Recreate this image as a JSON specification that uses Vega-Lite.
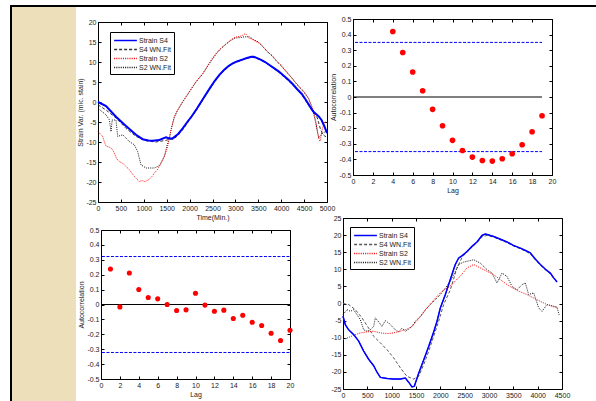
{
"$schema": "https://vega.github.io/schema/vega-lite/v6.json",
"padding": {"left": 10, "top": 5, "right": 0, "bottom": 0},
"background": "white",
"config": {
 "view": {"stroke": null},
 "concat": {"spacing": 0},
 "axis": {"labelFont": "Liberation Sans", "labelFontSize": 7, "labelColor": "#222", "titleFont": "Liberation Sans", "titleFontSize": 7, "titleFontWeight": "normal", "titleColor": "#222", "domain": true, "domainColor": "#000", "domainWidth": 1, "grid": false, "tickColor": "#000", "tickSize": -3, "labelPadding": 5, "titlePadding": 2, "labelFlush": false, "labelOverlap": false},
 "legend": {"labelFont": "Liberation Sans", "labelFontSize": 7, "labelColor": "#222", "symbolType": "M-2.4,0H2.4", "symbolSize": 90, "symbolStrokeWidth": 1.3, "symbolOffset": 7, "strokeColor": "#000", "fillColor": "white", "padding": 3, "rowPadding": 0, "labelOffset": 8}
},
"datasets": {
 "p1": [
  {"s":"S4 WN.Fit","t":0,"v":-0.7},{"s":"S4 WN.Fit","t":175,"v":-2},{"s":"S4 WN.Fit","t":393,"v":-4},{"s":"S4 WN.Fit","t":611,"v":-6.6},{"s":"S4 WN.Fit","t":830,"v":-8.6},{"s":"S4 WN.Fit","t":1048,"v":-9.7},{"s":"S4 WN.Fit","t":1260,"v":-10},{"s":"S4 WN.Fit","t":1480,"v":-9.6},{"s":"S4 WN.Fit","t":1560,"v":-9.3},{"s":"S4 WN.Fit","t":1650,"v":-9.3},{"s":"S4 WN.Fit","t":1750,"v":-8.3},{"s":"S4 WN.Fit","t":1850,"v":-6.9},{"s":"S4 WN.Fit","t":1950,"v":-5.3},{"s":"S4 WN.Fit","t":2050,"v":-3.7},{"s":"S4 WN.Fit","t":2150,"v":-2},{"s":"S4 WN.Fit","t":2250,"v":-0.2},{"s":"S4 WN.Fit","t":2350,"v":1.6},{"s":"S4 WN.Fit","t":2450,"v":3.4},{"s":"S4 WN.Fit","t":2550,"v":5.1},{"s":"S4 WN.Fit","t":2650,"v":6.6},{"s":"S4 WN.Fit","t":2750,"v":7.8},{"s":"S4 WN.Fit","t":2850,"v":8.8},{"s":"S4 WN.Fit","t":2950,"v":9.6},{"s":"S4 WN.Fit","t":3050,"v":10.1},{"s":"S4 WN.Fit","t":3150,"v":10.5},{"s":"S4 WN.Fit","t":3250,"v":10.9},{"s":"S4 WN.Fit","t":3350,"v":11.2},{"s":"S4 WN.Fit","t":3450,"v":11},{"s":"S4 WN.Fit","t":3550,"v":10.5},{"s":"S4 WN.Fit","t":3650,"v":9.9},{"s":"S4 WN.Fit","t":3750,"v":9.1},{"s":"S4 WN.Fit","t":3850,"v":8.3},{"s":"S4 WN.Fit","t":3950,"v":7.4},{"s":"S4 WN.Fit","t":4050,"v":6.4},{"s":"S4 WN.Fit","t":4150,"v":5.4},{"s":"S4 WN.Fit","t":4250,"v":4.3},{"s":"S4 WN.Fit","t":4350,"v":3.1},{"s":"S4 WN.Fit","t":4450,"v":1.8},{"s":"S4 WN.Fit","t":4550,"v":0},{"s":"S4 WN.Fit","t":4650,"v":-1.8},{"s":"S4 WN.Fit","t":4720,"v":-2.6},{"s":"S4 WN.Fit","t":4790,"v":-4},{"s":"S4 WN.Fit","t":4850,"v":-6.5},{"s":"S4 WN.Fit","t":4900,"v":-8},{"s":"S4 WN.Fit","t":4950,"v":-8.5},{"s":"S4 WN.Fit","t":5000,"v":-8.8},
  {"s":"S2 WN.Fit","t":0,"v":-1.6},{"s":"S2 WN.Fit","t":175,"v":-3.2},{"s":"S2 WN.Fit","t":250,"v":-4.5},{"s":"S2 WN.Fit","t":284,"v":-7.4},{"s":"S2 WN.Fit","t":310,"v":-4.5},{"s":"S2 WN.Fit","t":393,"v":-4.5},{"s":"S2 WN.Fit","t":430,"v":-8.6},{"s":"S2 WN.Fit","t":540,"v":-8.2},{"s":"S2 WN.Fit","t":684,"v":-9.9},{"s":"S2 WN.Fit","t":793,"v":-10.7},{"s":"S2 WN.Fit","t":866,"v":-12.4},{"s":"S2 WN.Fit","t":939,"v":-15.7},{"s":"S2 WN.Fit","t":1048,"v":-16.5},{"s":"S2 WN.Fit","t":1230,"v":-16.5},{"s":"S2 WN.Fit","t":1340,"v":-15.9},{"s":"S2 WN.Fit","t":1448,"v":-13.6},{"s":"S2 WN.Fit","t":1521,"v":-10.3},{"s":"S2 WN.Fit","t":1560,"v":-9},{"s":"S2 WN.Fit","t":1594,"v":-7},{"s":"S2 WN.Fit","t":1667,"v":-3.8},{"s":"S2 WN.Fit","t":1739,"v":-2.1},{"s":"S2 WN.Fit","t":1849,"v":0},{"s":"S2 WN.Fit","t":1994,"v":2.5},{"s":"S2 WN.Fit","t":2140,"v":5},{"s":"S2 WN.Fit","t":2285,"v":7},{"s":"S2 WN.Fit","t":2431,"v":9.6},{"s":"S2 WN.Fit","t":2580,"v":12},{"s":"S2 WN.Fit","t":2670,"v":13.2},{"s":"S2 WN.Fit","t":2780,"v":14.3},{"s":"S2 WN.Fit","t":2889,"v":15.3},{"s":"S2 WN.Fit","t":3000,"v":16},{"s":"S2 WN.Fit","t":3100,"v":16.1},{"s":"S2 WN.Fit","t":3200,"v":16.3},{"s":"S2 WN.Fit","t":3300,"v":16.3},{"s":"S2 WN.Fit","t":3400,"v":15.6},{"s":"S2 WN.Fit","t":3500,"v":15},{"s":"S2 WN.Fit","t":3600,"v":13.8},{"s":"S2 WN.Fit","t":3700,"v":12.6},{"s":"S2 WN.Fit","t":3800,"v":11.5},{"s":"S2 WN.Fit","t":3900,"v":10.2},{"s":"S2 WN.Fit","t":4000,"v":9},{"s":"S2 WN.Fit","t":4100,"v":7.7},{"s":"S2 WN.Fit","t":4200,"v":6.4},{"s":"S2 WN.Fit","t":4300,"v":5},{"s":"S2 WN.Fit","t":4400,"v":3.6},{"s":"S2 WN.Fit","t":4500,"v":2.4},{"s":"S2 WN.Fit","t":4600,"v":0.8},{"s":"S2 WN.Fit","t":4700,"v":-2.5},{"s":"S2 WN.Fit","t":4750,"v":-5},{"s":"S2 WN.Fit","t":4800,"v":-8},{"s":"S2 WN.Fit","t":4820,"v":-9},{"s":"S2 WN.Fit","t":4850,"v":-8.5},{"s":"S2 WN.Fit","t":4880,"v":-8},{"s":"S2 WN.Fit","t":4950,"v":-7.5},{"s":"S2 WN.Fit","t":5000,"v":-7},
  {"s":"Strain S4","t":0,"v":0},{"s":"Strain S4","t":175,"v":-1},{"s":"Strain S4","t":393,"v":-3.7},{"s":"Strain S4","t":611,"v":-6},{"s":"Strain S4","t":830,"v":-8.2},{"s":"Strain S4","t":975,"v":-9.3},{"s":"Strain S4","t":1100,"v":-9.6},{"s":"Strain S4","t":1194,"v":-9.7},{"s":"Strain S4","t":1339,"v":-9.5},{"s":"Strain S4","t":1485,"v":-8.8},{"s":"Strain S4","t":1557,"v":-9.1},{"s":"Strain S4","t":1630,"v":-9.1},{"s":"Strain S4","t":1750,"v":-8},{"s":"Strain S4","t":1850,"v":-6.6},{"s":"Strain S4","t":1950,"v":-5},{"s":"Strain S4","t":2050,"v":-3.5},{"s":"Strain S4","t":2150,"v":-1.8},{"s":"Strain S4","t":2250,"v":0},{"s":"Strain S4","t":2350,"v":1.8},{"s":"Strain S4","t":2450,"v":3.6},{"s":"Strain S4","t":2550,"v":5.3},{"s":"Strain S4","t":2650,"v":6.8},{"s":"Strain S4","t":2750,"v":8},{"s":"Strain S4","t":2850,"v":9},{"s":"Strain S4","t":2950,"v":9.7},{"s":"Strain S4","t":3050,"v":10.2},{"s":"Strain S4","t":3150,"v":10.6},{"s":"Strain S4","t":3250,"v":11},{"s":"Strain S4","t":3350,"v":11.3},{"s":"Strain S4","t":3400,"v":11.3},{"s":"Strain S4","t":3450,"v":11.1},{"s":"Strain S4","t":3550,"v":10.6},{"s":"Strain S4","t":3650,"v":10},{"s":"Strain S4","t":3750,"v":9.2},{"s":"Strain S4","t":3850,"v":8.4},{"s":"Strain S4","t":3950,"v":7.6},{"s":"Strain S4","t":4050,"v":6.6},{"s":"Strain S4","t":4150,"v":5.6},{"s":"Strain S4","t":4250,"v":4.5},{"s":"Strain S4","t":4350,"v":3.2},{"s":"Strain S4","t":4450,"v":2},{"s":"Strain S4","t":4550,"v":0.3},{"s":"Strain S4","t":4620,"v":-1},{"s":"Strain S4","t":4700,"v":-2.4},{"s":"Strain S4","t":4760,"v":-3},{"s":"Strain S4","t":4820,"v":-3.6},{"s":"Strain S4","t":4880,"v":-4.5},{"s":"Strain S4","t":4940,"v":-6},{"s":"Strain S4","t":5000,"v":-7.8},
  {"s":"Strain S2","t":0,"v":-7.4},{"s":"Strain S2","t":50,"v":-8},{"s":"Strain S2","t":102,"v":-8.6},{"s":"Strain S2","t":140,"v":-10},{"s":"Strain S2","t":175,"v":-11},{"s":"Strain S2","t":230,"v":-11.2},{"s":"Strain S2","t":284,"v":-11.5},{"s":"Strain S2","t":320,"v":-12},{"s":"Strain S2","t":357,"v":-12.8},{"s":"Strain S2","t":400,"v":-14},{"s":"Strain S2","t":430,"v":-14.5},{"s":"Strain S2","t":480,"v":-15},{"s":"Strain S2","t":539,"v":-15.3},{"s":"Strain S2","t":600,"v":-16},{"s":"Strain S2","t":684,"v":-16.9},{"s":"Strain S2","t":740,"v":-17.8},{"s":"Strain S2","t":793,"v":-18.6},{"s":"Strain S2","t":850,"v":-19.3},{"s":"Strain S2","t":903,"v":-19.9},{"s":"Strain S2","t":960,"v":-19.6},{"s":"Strain S2","t":1012,"v":-19.9},{"s":"Strain S2","t":1070,"v":-19.7},{"s":"Strain S2","t":1121,"v":-19.3},{"s":"Strain S2","t":1180,"v":-18.6},{"s":"Strain S2","t":1230,"v":-17.8},{"s":"Strain S2","t":1290,"v":-17},{"s":"Strain S2","t":1340,"v":-16.1},{"s":"Strain S2","t":1400,"v":-14.9},{"s":"Strain S2","t":1448,"v":-13.6},{"s":"Strain S2","t":1490,"v":-12.3},{"s":"Strain S2","t":1521,"v":-11.1},{"s":"Strain S2","t":1560,"v":-9},{"s":"Strain S2","t":1594,"v":-7},{"s":"Strain S2","t":1630,"v":-5.2},{"s":"Strain S2","t":1667,"v":-3.7},{"s":"Strain S2","t":1700,"v":-2.8},{"s":"Strain S2","t":1739,"v":-2},{"s":"Strain S2","t":1800,"v":-0.8},{"s":"Strain S2","t":1849,"v":0.1},{"s":"Strain S2","t":1920,"v":1.3},{"s":"Strain S2","t":1994,"v":2.6},{"s":"Strain S2","t":2070,"v":3.9},{"s":"Strain S2","t":2140,"v":5.1},{"s":"Strain S2","t":2210,"v":6.1},{"s":"Strain S2","t":2285,"v":7.1},{"s":"Strain S2","t":2360,"v":8.4},{"s":"Strain S2","t":2431,"v":9.8},{"s":"Strain S2","t":2500,"v":11},{"s":"Strain S2","t":2580,"v":12.2},{"s":"Strain S2","t":2670,"v":13.3},{"s":"Strain S2","t":2780,"v":14.4},{"s":"Strain S2","t":2889,"v":15.4},{"s":"Strain S2","t":2960,"v":16},{"s":"Strain S2","t":3035,"v":16.3},{"s":"Strain S2","t":3100,"v":16.4},{"s":"Strain S2","t":3160,"v":16.7},{"s":"Strain S2","t":3217,"v":17.1},{"s":"Strain S2","t":3260,"v":16.6},{"s":"Strain S2","t":3300,"v":15.9},{"s":"Strain S2","t":3350,"v":15.8},{"s":"Strain S2","t":3400,"v":15.4},{"s":"Strain S2","t":3470,"v":15},{"s":"Strain S2","t":3544,"v":14.6},{"s":"Strain S2","t":3620,"v":13.6},{"s":"Strain S2","t":3700,"v":12.5},{"s":"Strain S2","t":3800,"v":11.7},{"s":"Strain S2","t":3900,"v":10.3},{"s":"Strain S2","t":4000,"v":9.2},{"s":"Strain S2","t":4100,"v":7.8},{"s":"Strain S2","t":4200,"v":6.5},{"s":"Strain S2","t":4300,"v":5.1},{"s":"Strain S2","t":4400,"v":3.8},{"s":"Strain S2","t":4500,"v":2.6},{"s":"Strain S2","t":4600,"v":0.9},{"s":"Strain S2","t":4650,"v":-0.5},{"s":"Strain S2","t":4700,"v":-2},{"s":"Strain S2","t":4750,"v":-4.5},{"s":"Strain S2","t":4800,"v":-7.8},{"s":"Strain S2","t":4830,"v":-9.5},{"s":"Strain S2","t":4850,"v":-9.8},{"s":"Strain S2","t":4870,"v":-8.6},{"s":"Strain S2","t":4900,"v":-6.6},{"s":"Strain S2","t":4950,"v":-4.9},{"s":"Strain S2","t":5000,"v":-5.3}
 ],
 "p4": [
  {"s":"S4 WN.Fit","t":0,"v":0},{"s":"S4 WN.Fit","t":116,"v":-0.3},{"s":"S4 WN.Fit","t":253,"v":-1.8},{"s":"S4 WN.Fit","t":390,"v":-4.2},{"s":"S4 WN.Fit","t":527,"v":-7.2},{"s":"S4 WN.Fit","t":630,"v":-9.6},{"s":"S4 WN.Fit","t":767,"v":-11.5},{"s":"S4 WN.Fit","t":904,"v":-13.5},{"s":"S4 WN.Fit","t":1041,"v":-15.9},{"s":"S4 WN.Fit","t":1178,"v":-18.8},{"s":"S4 WN.Fit","t":1315,"v":-21.3},{"s":"S4 WN.Fit","t":1452,"v":-22.1},{"s":"S4 WN.Fit","t":1555,"v":-21.3},{"s":"S4 WN.Fit","t":1658,"v":-17.9},{"s":"S4 WN.Fit","t":1760,"v":-14},{"s":"S4 WN.Fit","t":1863,"v":-9.6},{"s":"S4 WN.Fit","t":1966,"v":-5.2},{"s":"S4 WN.Fit","t":2068,"v":-0.3},{"s":"S4 WN.Fit","t":2205,"v":4},{"s":"S4 WN.Fit","t":2342,"v":10.4},{"s":"S4 WN.Fit","t":2450,"v":13.6},{"s":"S4 WN.Fit","t":2548,"v":15},{"s":"S4 WN.Fit","t":2650,"v":16.5},{"s":"S4 WN.Fit","t":2753,"v":17.8},{"s":"S4 WN.Fit","t":2856,"v":19.5},{"s":"S4 WN.Fit","t":2959,"v":19.9},{"s":"S4 WN.Fit","t":3096,"v":19.4},{"s":"S4 WN.Fit","t":3250,"v":18.5},{"s":"S4 WN.Fit","t":3370,"v":17.8},{"s":"S4 WN.Fit","t":3500,"v":16.8},{"s":"S4 WN.Fit","t":3644,"v":16},{"s":"S4 WN.Fit","t":3750,"v":15.3},{"s":"S4 WN.Fit","t":3849,"v":14.5},{"s":"S4 WN.Fit","t":3950,"v":12.8},{"s":"S4 WN.Fit","t":4055,"v":11.2},{"s":"S4 WN.Fit","t":4160,"v":9.8},{"s":"S4 WN.Fit","t":4260,"v":8.7},{"s":"S4 WN.Fit","t":4330,"v":7.3},{"s":"S4 WN.Fit","t":4420,"v":6},
  {"s":"S2 WN.Fit","t":0,"v":-3.3},{"s":"S2 WN.Fit","t":82,"v":-1.8},{"s":"S2 WN.Fit","t":151,"v":-2.3},{"s":"S2 WN.Fit","t":219,"v":-1.8},{"s":"S2 WN.Fit","t":288,"v":-3.3},{"s":"S2 WN.Fit","t":356,"v":-4.7},{"s":"S2 WN.Fit","t":425,"v":-7.7},{"s":"S2 WN.Fit","t":493,"v":-8.1},{"s":"S2 WN.Fit","t":562,"v":-7.7},{"s":"S2 WN.Fit","t":630,"v":-6.7},{"s":"S2 WN.Fit","t":664,"v":-4.2},{"s":"S2 WN.Fit","t":733,"v":-5.4},{"s":"S2 WN.Fit","t":801,"v":-6.7},{"s":"S2 WN.Fit","t":870,"v":-5},{"s":"S2 WN.Fit","t":938,"v":-5.7},{"s":"S2 WN.Fit","t":1007,"v":-6.7},{"s":"S2 WN.Fit","t":1075,"v":-7.7},{"s":"S2 WN.Fit","t":1144,"v":-8.3},{"s":"S2 WN.Fit","t":1212,"v":-7.2},{"s":"S2 WN.Fit","t":1281,"v":-8.1},{"s":"S2 WN.Fit","t":1349,"v":-7.5},{"s":"S2 WN.Fit","t":1418,"v":-6.7},{"s":"S2 WN.Fit","t":1486,"v":-5.2},{"s":"S2 WN.Fit","t":1589,"v":-3.8},{"s":"S2 WN.Fit","t":1692,"v":-1.8},{"s":"S2 WN.Fit","t":1795,"v":-0.3},{"s":"S2 WN.Fit","t":1897,"v":1.1},{"s":"S2 WN.Fit","t":2000,"v":2.6},{"s":"S2 WN.Fit","t":2103,"v":4.5},{"s":"S2 WN.Fit","t":2205,"v":6.5},{"s":"S2 WN.Fit","t":2274,"v":8.4},{"s":"S2 WN.Fit","t":2377,"v":11.4},{"s":"S2 WN.Fit","t":2480,"v":12.1},{"s":"S2 WN.Fit","t":2685,"v":12.8},{"s":"S2 WN.Fit","t":2822,"v":11.8},{"s":"S2 WN.Fit","t":2959,"v":9.9},{"s":"S2 WN.Fit","t":3062,"v":8.9},{"s":"S2 WN.Fit","t":3164,"v":6},{"s":"S2 WN.Fit","t":3267,"v":8.9},{"s":"S2 WN.Fit","t":3370,"v":7.9},{"s":"S2 WN.Fit","t":3473,"v":5},{"s":"S2 WN.Fit","t":3575,"v":4},{"s":"S2 WN.Fit","t":3678,"v":5.5},{"s":"S2 WN.Fit","t":3747,"v":6},{"s":"S2 WN.Fit","t":3815,"v":2.6},{"s":"S2 WN.Fit","t":3918,"v":3.1},{"s":"S2 WN.Fit","t":4021,"v":-1.3},{"s":"S2 WN.Fit","t":4089,"v":-2.3},{"s":"S2 WN.Fit","t":4192,"v":-0.3},{"s":"S2 WN.Fit","t":4329,"v":-0.8},{"s":"S2 WN.Fit","t":4397,"v":-1},{"s":"S2 WN.Fit","t":4440,"v":-3.3},
  {"s":"Strain S4","t":0,"v":-3.75},{"s":"Strain S4","t":48,"v":-6.2},{"s":"Strain S4","t":116,"v":-7.7},{"s":"Strain S4","t":219,"v":-9.1},{"s":"Strain S4","t":322,"v":-11},{"s":"Strain S4","t":425,"v":-13.9},{"s":"Strain S4","t":527,"v":-16.3},{"s":"Strain S4","t":630,"v":-18.2},{"s":"Strain S4","t":699,"v":-20.1},{"s":"Strain S4","t":767,"v":-21.6},{"s":"Strain S4","t":904,"v":-21.9},{"s":"Strain S4","t":1041,"v":-22.1},{"s":"Strain S4","t":1178,"v":-22.1},{"s":"Strain S4","t":1281,"v":-21.8},{"s":"Strain S4","t":1349,"v":-23},{"s":"Strain S4","t":1418,"v":-24.4},{"s":"Strain S4","t":1466,"v":-24.2},{"s":"Strain S4","t":1555,"v":-20.4},{"s":"Strain S4","t":1658,"v":-16.5},{"s":"Strain S4","t":1760,"v":-12.6},{"s":"Strain S4","t":1863,"v":-8.3},{"s":"Strain S4","t":1932,"v":-5.2},{"s":"Strain S4","t":2000,"v":-1.3},{"s":"Strain S4","t":2103,"v":2.6},{"s":"Strain S4","t":2205,"v":7},{"s":"Strain S4","t":2274,"v":10},{"s":"Strain S4","t":2308,"v":11.4},{"s":"Strain S4","t":2377,"v":13.3},{"s":"Strain S4","t":2450,"v":14},{"s":"Strain S4","t":2548,"v":15.2},{"s":"Strain S4","t":2650,"v":16.7},{"s":"Strain S4","t":2753,"v":18},{"s":"Strain S4","t":2856,"v":19.9},{"s":"Strain S4","t":2920,"v":20.3},{"s":"Strain S4","t":2959,"v":20.2},{"s":"Strain S4","t":3096,"v":19.6},{"s":"Strain S4","t":3250,"v":18.7},{"s":"Strain S4","t":3370,"v":18},{"s":"Strain S4","t":3500,"v":17},{"s":"Strain S4","t":3644,"v":16.2},{"s":"Strain S4","t":3750,"v":15.5},{"s":"Strain S4","t":3849,"v":14.8},{"s":"Strain S4","t":3950,"v":13},{"s":"Strain S4","t":4055,"v":11.4},{"s":"Strain S4","t":4160,"v":10},{"s":"Strain S4","t":4260,"v":8.9},{"s":"Strain S4","t":4330,"v":7.5},{"s":"Strain S4","t":4397,"v":6.3},
  {"s":"Strain S2","t":0,"v":-10.6},{"s":"Strain S2","t":82,"v":-10.1},{"s":"Strain S2","t":219,"v":-9.3},{"s":"Strain S2","t":356,"v":-8.6},{"s":"Strain S2","t":493,"v":-8.3},{"s":"Strain S2","t":630,"v":-8.1},{"s":"Strain S2","t":767,"v":-8.6},{"s":"Strain S2","t":904,"v":-8.8},{"s":"Strain S2","t":1041,"v":-8.6},{"s":"Strain S2","t":1178,"v":-8.1},{"s":"Strain S2","t":1315,"v":-7.5},{"s":"Strain S2","t":1418,"v":-6.7},{"s":"Strain S2","t":1521,"v":-5},{"s":"Strain S2","t":1623,"v":-3.3},{"s":"Strain S2","t":1726,"v":-1.3},{"s":"Strain S2","t":1829,"v":0.4},{"s":"Strain S2","t":1932,"v":2.1},{"s":"Strain S2","t":2034,"v":3.6},{"s":"Strain S2","t":2137,"v":4.5},{"s":"Strain S2","t":2240,"v":5.5},{"s":"Strain S2","t":2342,"v":7.1},{"s":"Strain S2","t":2411,"v":8},{"s":"Strain S2","t":2548,"v":10.4},{"s":"Strain S2","t":2685,"v":11.4},{"s":"Strain S2","t":2753,"v":10.9},{"s":"Strain S2","t":2890,"v":9.9},{"s":"Strain S2","t":3096,"v":8.4},{"s":"Strain S2","t":3233,"v":7},{"s":"Strain S2","t":3370,"v":5.5},{"s":"Strain S2","t":3575,"v":3.8},{"s":"Strain S2","t":3781,"v":2.6},{"s":"Strain S2","t":3986,"v":1.1},{"s":"Strain S2","t":4192,"v":-0.3},{"s":"Strain S2","t":4397,"v":-1.3}
 ],
 "acf2": [
  {"lag":4,"r":0.42},{"lag":5,"r":0.285},{"lag":6,"r":0.16},{"lag":7,"r":0.04},{"lag":8,"r":-0.079},{"lag":9,"r":-0.184},{"lag":10,"r":-0.278},{"lag":11,"r":-0.343},{"lag":12,"r":-0.385},{"lag":13,"r":-0.407},{"lag":14,"r":-0.411},{"lag":15,"r":-0.396},{"lag":16,"r":-0.364},{"lag":17,"r":-0.306},{"lag":18,"r":-0.223},{"lag":19,"r":-0.12}
 ],
 "acf3": [
  {"lag":1,"r":0.238},{"lag":2,"r":-0.016},{"lag":3,"r":0.211},{"lag":4,"r":0.101},{"lag":5,"r":0.047},{"lag":6,"r":0.038},{"lag":7,"r":0.0},{"lag":8,"r":-0.04},{"lag":9,"r":-0.036},{"lag":10,"r":0.076},{"lag":11,"r":-0.004},{"lag":12,"r":-0.045},{"lag":13,"r":-0.038},{"lag":14,"r":-0.094},{"lag":15,"r":-0.072},{"lag":16,"r":-0.119},{"lag":17,"r":-0.141},{"lag":18,"r":-0.193},{"lag":19,"r":-0.242},{"lag":20,"r":-0.173}
 ]
},
"bounds": "flush",
"spacing": 0,
"resolve": {"scale": {"color": "independent", "strokeDash": "independent"}, "legend": {"color": "independent", "strokeDash": "independent"}},
"vconcat": [
 {"width": 586, "height": 2, "view": {"fill": "#000", "stroke": null}, "data": {"values": []}, "mark": "point"},
 {
  "bounds": "flush",
  "spacing": 0,
  "resolve": {"scale": {"color": "independent", "strokeDash": "independent"}, "legend": {"color": "independent", "strokeDash": "independent"}},
  "hconcat": [
   {"width": 2, "height": 394, "view": {"fill": "#000", "stroke": null}, "data": {"values": []}, "mark": "point"},
   {"width": 64, "height": 394, "view": {"fill": "#ecdfba", "stroke": null}, "data": {"values": []}, "mark": "point"},
   {
    "width": 520, "height": 394,
    "resolve": {"scale": {"x": "independent", "y": "independent", "color": "independent", "strokeDash": "independent"}, "axis": {"x": "independent", "y": "independent"}, "legend": {"color": "independent", "strokeDash": "independent"}},
    "layer": [
     {
      "layer": [
       {"data": {"name": "p1"}, "mark": {"type": "line", "strokeWidth": 1},
        "encoding": {
         "x": {"field": "t", "type": "quantitative", "scale": {"domain": [0, 5000], "range": [22, 251], "nice": false, "zero": false}, "axis": {"orient": "bottom", "offset": -199, "values": [0,500,1000,1500,2000,2500,3000,3500,4000,4500,5000], "format": "d", "title": "Time(Min.)"}},
         "y": {"field": "v", "type": "quantitative", "scale": {"domain": [-25, 20], "range": [195, 15], "nice": false, "zero": false}, "axis": {"orient": "left", "offset": -22, "values": [-25,-20,-15,-10,-5,0,5,10,15,20], "labelExpr": "replace(format(datum.value,'d'),'−','-')", "title": "Strain Var. (mic. stain)"}},
         "color": {"field": "s", "type": "nominal", "scale": {"domain": ["Strain S4","S4 WN.Fit","Strain S2","S2 WN.Fit"], "range": ["#0000ff","#333333","#ff0000","#111111"]}, "legend": {"orient": "none", "legendX": 34, "legendY": 25, "title": null}},
         "strokeDash": {"field": "s", "type": "nominal", "scale": {"domain": ["Strain S4","S4 WN.Fit","Strain S2","S2 WN.Fit"], "range": [[1,0],[3,2],[1,1.2],[1,1.2]]}, "legend": {"orient": "none", "legendX": 34, "legendY": 25, "title": null}}
        }},
       {"data": {"name": "p1"}, "transform": [{"filter": "datum.s == 'Strain S4'"}], "mark": {"type": "line", "strokeWidth": 2, "color": "#0000ff"},
        "encoding": {"x": {"field": "t", "type": "quantitative", "axis": null}, "y": {"field": "v", "type": "quantitative", "axis": null}}},
       {"data": {"values": [{"t": 0, "v": 0}]}, "mark": {"type": "point", "opacity": 0},
        "encoding": {
         "x": {"field": "t", "type": "quantitative", "axis": {"orient": "top", "offset": -15, "labels": false, "title": null, "values": [0,500,1000,1500,2000,2500,3000,3500,4000,4500,5000]}},
         "y": {"field": "v", "type": "quantitative", "axis": {"orient": "right", "offset": -269, "labels": false, "title": null, "values": [-25,-20,-15,-10,-5,0,5,10,15,20]}}
        }}
      ],
      "resolve": {"axis": {"x": "independent", "y": "independent"}}
     },
     {
      "layer": [
       {"data": {"values": [{"a": 0.2, "b": 19, "y": 0.35}, {"a": 0.2, "b": 19, "y": -0.35}]}, "mark": {"type": "rule", "color": "#0000ff", "strokeDash": [3, 1.5], "strokeWidth": 1},
        "encoding": {
         "x": {"field": "a", "type": "quantitative", "scale": {"domain": [0, 20], "range": [277, 476], "nice": false, "zero": false}, "axis": {"orient": "bottom", "offset": -226, "values": [0,2,4,6,8,10,12,14,16,18,20], "format": "d", "title": "Lag"}},
         "x2": {"field": "b"},
         "y": {"field": "y", "type": "quantitative", "scale": {"domain": [-0.5, 0.5], "range": [168, 12], "nice": false, "zero": false}, "axis": {"orient": "left", "offset": -277, "values": [-0.5,-0.4,-0.3,-0.2,-0.1,0,0.1,0.2,0.3,0.4,0.5], "labelExpr": "replace(format(datum.value,'~g'),'−','-')", "title": "Autocorrelation"}}
        }},
       {"data": {"values": [{"a": 0, "b": 19, "y": 0}]}, "mark": {"type": "rule", "color": "#000", "strokeWidth": 1.2},
        "encoding": {"x": {"field": "a", "type": "quantitative", "axis": null}, "x2": {"field": "b"}, "y": {"field": "y", "type": "quantitative", "axis": null}}},
       {"data": {"name": "acf2"}, "mark": {"type": "circle", "color": "#ff0000", "opacity": 1, "size": 32},
        "encoding": {"x": {"field": "lag", "type": "quantitative", "axis": null}, "y": {"field": "r", "type": "quantitative", "axis": null}}},
       {"data": {"values": [{"a": 0, "y": 0}]}, "mark": {"type": "point", "opacity": 0},
        "encoding": {
         "x": {"field": "a", "type": "quantitative", "axis": {"orient": "top", "offset": -12, "labels": false, "title": null, "values": [0,2,4,6,8,10,12,14,16,18,20]}},
         "y": {"field": "y", "type": "quantitative", "axis": {"orient": "right", "offset": -44, "labels": false, "title": null, "values": [-0.5,-0.4,-0.3,-0.2,-0.1,0,0.1,0.2,0.3,0.4,0.5]}}
        }}
      ],
      "resolve": {"axis": {"x": "independent", "y": "independent"}}
     },
     {
      "layer": [
       {"data": {"values": [{"a": 0.1, "b": 20, "y": 0.322}, {"a": 0.1, "b": 20, "y": -0.322}]}, "mark": {"type": "rule", "color": "#0000ff", "strokeDash": [3, 1.5], "strokeWidth": 1},
        "encoding": {
         "x": {"field": "a", "type": "quantitative", "scale": {"domain": [0, 20], "range": [25, 214], "nice": false, "zero": false}, "axis": {"orient": "bottom", "offset": -22, "values": [0,2,4,6,8,10,12,14,16,18,20], "format": "d", "title": "Lag"}},
         "x2": {"field": "b"},
         "y": {"field": "y", "type": "quantitative", "scale": {"domain": [-0.5, 0.5], "range": [372, 223], "nice": false, "zero": false}, "axis": {"orient": "left", "offset": -25, "values": [-0.5,-0.4,-0.3,-0.2,-0.1,0,0.1,0.2,0.3,0.4,0.5], "labelExpr": "replace(format(datum.value,'~g'),'−','-')", "title": "Autocorrelation"}}
        }},
       {"data": {"values": [{"a": 0, "b": 20, "y": 0}]}, "mark": {"type": "rule", "color": "#000", "strokeWidth": 1.2},
        "encoding": {"x": {"field": "a", "type": "quantitative", "axis": null}, "x2": {"field": "b"}, "y": {"field": "y", "type": "quantitative", "axis": null}}},
       {"data": {"name": "acf3"}, "mark": {"type": "circle", "color": "#ff0000", "opacity": 1, "size": 26},
        "encoding": {"x": {"field": "lag", "type": "quantitative", "axis": null}, "y": {"field": "r", "type": "quantitative", "axis": null}}},
       {"data": {"values": [{"a": 0, "y": 0}]}, "mark": {"type": "point", "opacity": 0},
        "encoding": {
         "x": {"field": "a", "type": "quantitative", "axis": {"orient": "top", "offset": -223, "labels": false, "title": null, "values": [0,2,4,6,8,10,12,14,16,18,20]}},
         "y": {"field": "y", "type": "quantitative", "axis": {"orient": "right", "offset": -306, "labels": false, "title": null, "values": [-0.5,-0.4,-0.3,-0.2,-0.1,0,0.1,0.2,0.3,0.4,0.5]}}
        }}
      ],
      "resolve": {"axis": {"x": "independent", "y": "independent"}}
     },
     {
      "layer": [
       {"data": {"name": "p4"}, "mark": {"type": "line", "strokeWidth": 1},
        "encoding": {
         "x": {"field": "t", "type": "quantitative", "scale": {"domain": [0, 4500], "range": [267, 486], "nice": false, "zero": false}, "axis": {"orient": "bottom", "offset": -12, "values": [0,500,1000,1500,2000,2500,3000,3500,4000,4500], "format": "d", "title": null}},
         "y": {"field": "v", "type": "quantitative", "scale": {"domain": [-25, 25], "range": [382, 211], "nice": false, "zero": false}, "axis": {"orient": "left", "offset": -267, "values": [-25,-20,-15,-10,-5,0,5,10,15,20,25], "labelExpr": "replace(format(datum.value,'d'),'−','-')", "title": null}},
         "color": {"field": "s", "type": "nominal", "scale": {"domain": ["Strain S4","S4 WN.Fit","Strain S2","S2 WN.Fit"], "range": ["#0000ff","#555555","#ff0000","#111111"]}, "legend": {"orient": "none", "legendX": 274, "legendY": 220, "title": null}},
         "strokeDash": {"field": "s", "type": "nominal", "scale": {"domain": ["Strain S4","S4 WN.Fit","Strain S2","S2 WN.Fit"], "range": [[1,0],[3,2],[1,1.2],[1,1.2]]}, "legend": {"orient": "none", "legendX": 274, "legendY": 220, "title": null}}
        }},
       {"data": {"name": "p4"}, "transform": [{"filter": "datum.s == 'Strain S4'"}], "mark": {"type": "line", "strokeWidth": 1.5, "color": "#0000ff"},
        "encoding": {"x": {"field": "t", "type": "quantitative", "axis": null}, "y": {"field": "v", "type": "quantitative", "axis": null}}},
       {"data": {"values": [{"t": 0, "v": 0}]}, "mark": {"type": "point", "opacity": 0},
        "encoding": {
         "x": {"field": "t", "type": "quantitative", "axis": {"orient": "top", "offset": -211, "labels": false, "title": null, "values": [0,500,1000,1500,2000,2500,3000,3500,4000,4500]}},
         "y": {"field": "v", "type": "quantitative", "axis": {"orient": "right", "offset": -34, "labels": false, "title": null, "values": [-25,-20,-15,-10,-5,0,5,10,15,20,25]}}
        }}
      ],
      "resolve": {"axis": {"x": "independent", "y": "independent"}}
     }
    ]
   }
  ]
 }
]
}
